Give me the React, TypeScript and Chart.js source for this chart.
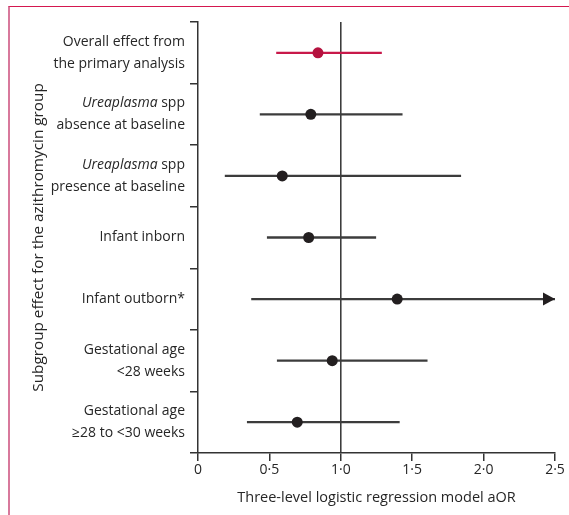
import React, { useEffect, useRef } from "react";
import { Chart, registerables } from "chart.js";

Chart.register(...registerables);

// ---------- data ----------
// "_text_" marks italic segments
const categoryLines: string[][] = [
  ["Overall effect from", "the primary analysis"],
  ["_Ureaplasma_ spp", "absence at baseline"],
  ["_Ureaplasma_ spp", "presence at baseline"],
  ["Infant inborn"],
  ["Infant outborn*"],
  ["Gestational age", "<28 weeks"],
  ["Gestational age", "≥28 to <30 weeks"],
];
const categories = categoryLines.map((l) => l.join(" ").replace(/_/g, ""));
const aor = [0.84, 0.79, 0.59, 0.775, 1.395, 0.94, 0.695];
const ciLower = [0.55, 0.435, 0.19, 0.485, 0.375, 0.555, 0.345];
const ciUpper = [1.285, 1.43, 1.84, 1.245, 3.5, 1.605, 1.41];
const highlightIndex = 0;
const xTickValues = [0, 0.5, 1, 1.5, 2, 2.5];
const xTickLabels = ["0", "0·5", "1·0", "1·5", "2·0", "2·5"];
const referenceValue = 1;
const xAxisTitle = "Three-level logistic regression model aOR";
const yAxisTitle = "Subgroup effect for the azithromycin group";

// ---------- style ----------
const FONT = "'Open Sans', 'Noto Sans', sans-serif";
const TEXT = "#262626";
const AXIS = "#333333";
const LINE = "#3c3c3c";
const DOT = "#231f20";
const RED_LINE = "#c8184a";
const RED_DOT = "#b5123f";

const richLabelPlugin = {
  id: "richLabels",
  afterDraw(chart: any) {
    const ys = chart.scales.y;
    const ctx = chart.ctx as CanvasRenderingContext2D;
    const size = 14;
    const lineH = 22;
    const rightX = ys.right - 13;
    ctx.save();
    ctx.fillStyle = TEXT;
    ctx.textBaseline = "middle";
    ctx.textAlign = "left";
    categoryLines.forEach((lines, i) => {
      const cy = ys.getPixelForValue(i);
      const n = lines.length;
      lines.forEach((line, j) => {
        const ly = cy + (j - (n - 1) / 2) * lineH;
        const segs = line
          .split("_")
          .map((t, k) => ({ t, italic: k % 2 === 1 }))
          .filter((s) => s.t.length > 0);
        const widths = segs.map((s) => {
          ctx.font = `${s.italic ? "italic " : ""}${size}px ${FONT}`;
          return ctx.measureText(s.t).width;
        });
        let x = rightX - widths.reduce((a, b) => a + b, 0);
        segs.forEach((s, k) => {
          ctx.font = `${s.italic ? "italic " : ""}${size}px ${FONT}`;
          ctx.fillText(s.t, x, ly);
          x += widths[k];
        });
      });
    });
    ctx.restore();
  },
};

const refLinePlugin = {
  id: "refLine",
  beforeDatasetsDraw(chart: any) {
    const { ctx, chartArea } = chart;
    const x = chart.scales.x.getPixelForValue(referenceValue);
    ctx.save();
    ctx.strokeStyle = AXIS;
    ctx.lineWidth = 1.5;
    ctx.beginPath();
    ctx.moveTo(x, chartArea.top);
    ctx.lineTo(x, chartArea.bottom);
    ctx.stroke();
    ctx.restore();
  },
};

const arrowPlugin = {
  id: "arrows",
  afterDatasetsDraw(chart: any) {
    const { ctx } = chart;
    const xs = chart.scales.x;
    const ys = chart.scales.y;
    ctx.save();
    ciUpper.forEach((u, i) => {
      if (u <= xs.max) return;
      const tip = xs.getPixelForValue(xs.max);
      const cy = ys.getPixelForValue(i);
      ctx.fillStyle = i === highlightIndex ? RED_LINE : DOT;
      ctx.beginPath();
      ctx.moveTo(tip, cy);
      ctx.lineTo(tip - 12, cy - 6.5);
      ctx.lineTo(tip - 12, cy + 6.5);
      ctx.closePath();
      ctx.fill();
    });
    ctx.restore();
  },
};

export default function App() {
  const ref = useRef<HTMLCanvasElement>(null);
  useEffect(() => {
    if (!ref.current) return;
    const chart = new Chart(ref.current, {
      type: "bar",
      data: {
        labels: categories,
        datasets: [
          {
            type: "line",
            label: "aOR",
            indexAxis: "y",
            data: aor.map((v, i) => ({ x: v, y: categories[i] })),
            showLine: false,
            pointRadius: 5.5,
            pointHoverRadius: 5.5,
            pointBorderWidth: 0,
            pointBackgroundColor: aor.map((_, i) => (i === highlightIndex ? RED_DOT : DOT)),
            pointBorderColor: aor.map((_, i) => (i === highlightIndex ? RED_DOT : DOT)),
            order: 0,
          } as any,
          {
            type: "bar",
            label: "95% CI",
            data: ciLower.map((l, i) => [l, ciUpper[i]]),
            backgroundColor: ciLower.map((_, i) => (i === highlightIndex ? RED_LINE : LINE)),
            borderWidth: 0,
            barThickness: 1.6,
            order: 1,
          } as any,
        ],
      },
      options: {
        indexAxis: "y",
        animation: false,
        responsive: true,
        maintainAspectRatio: false,
        layout: { padding: { top: 22, right: 14, left: 0, bottom: 0 } },
        plugins: {
          legend: { display: false },
          tooltip: { enabled: false },
        },
        scales: {
          x: {
            type: "linear",
            min: 0,
            max: 2.5,
            afterBuildTicks: (scale: any) => {
              scale.ticks = xTickValues.map((v) => ({ value: v }));
            },
            afterFit: (scale: any) => {
              scale.height = 62;
            },
            ticks: {
              callback: (v: any) => {
                const idx = xTickValues.indexOf(Number(v));
                return idx >= 0 ? xTickLabels[idx] : "";
              },
              color: TEXT,
              font: { family: FONT, size: 14 },
              padding: 1,
              maxRotation: 0,
            },
            grid: {
              drawOnChartArea: false,
              drawTicks: true,
              tickLength: 8,
              color: AXIS,
              lineWidth: 1.5,
            },
            border: { display: true, color: AXIS, width: 1.5 },
            title: {
              display: true,
              text: xAxisTitle,
              color: TEXT,
              font: { family: FONT, size: 14.5 },
              padding: { top: 4, bottom: 8 },
            },
          },
          y: {
            type: "category",
            offset: true,
            afterFit: (scale: any) => {
              scale.width = 198;
            },
            ticks: { display: false },
            grid: {
              offset: true,
              drawOnChartArea: false,
              drawTicks: true,
              tickLength: 8,
              color: AXIS,
              lineWidth: 1.5,
            },
            border: { display: true, color: AXIS, width: 1.5 },
            title: {
              display: true,
              text: yAxisTitle,
              color: TEXT,
              font: { family: FONT, size: 15.3 },
              padding: { top: 29, bottom: 0 },
            },
          },
        },
      } as any,
      plugins: [refLinePlugin, arrowPlugin, richLabelPlugin],
    });
    return () => chart.destroy();
  }, []);

  return (
    <div style={{ position: "fixed", left: 0, top: 0, width: 569, height: 515, background: "#fff" }}>
      <div
        style={{
          position: "absolute",
          left: 8,
          top: 6,
          right: 0,
          bottom: 0,
          borderTop: "1.5px solid #d4174f",
          borderLeft: "2px solid #d8799c",
          pointerEvents: "none",
        }}
      />
      <canvas ref={ref} style={{ position: "absolute", left: 0, top: 0, width: 569, height: 515 }} />
    </div>
  );
}
